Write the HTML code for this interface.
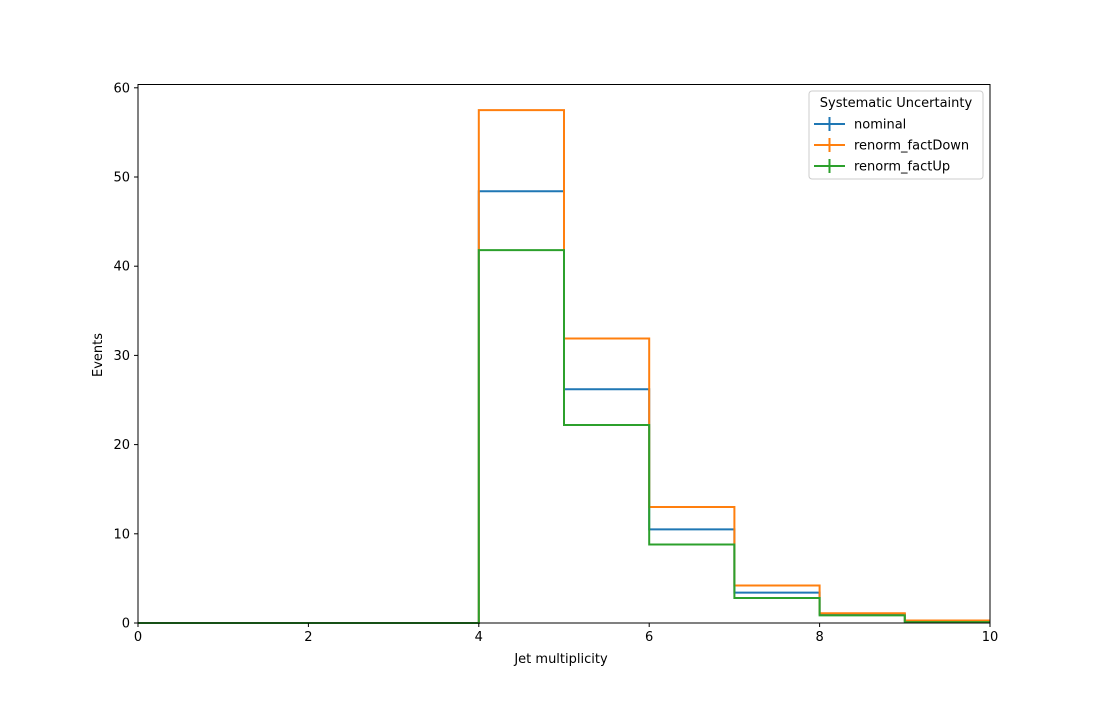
<!DOCTYPE html>
<html><head><meta charset="utf-8"><style>
body{margin:0;background:#fff;font-family:"Liberation Sans","DejaVu Sans",sans-serif;}
svg text{font-family:"DejaVu Sans","Liberation Sans",sans-serif;font-size:13px;fill:#000}
</style></head><body>
<svg id="chart" width="1100" height="700" xmlns="http://www.w3.org/2000/svg">
<rect x="0" y="0" width="1100" height="700" fill="#fff"/>
<g id="series"></g>
<rect x="138" y="84.5" width="852" height="538.5" fill="none" stroke="#000" stroke-width="1"/>
<g id="xticks"></g><g id="yticks"></g>
<text x="561" y="663" text-anchor="middle">Jet multiplicity</text>
<text transform="translate(102,355) rotate(-90)" text-anchor="middle">Events</text>
<g>
<rect x="809" y="91" width="174" height="88" rx="3" fill="#fff" fill-opacity="0.8" stroke="#ccc"/>
<text x="896" y="107" text-anchor="middle">Systematic Uncertainty</text>
<g id="legend-entries"></g>
</g>
</svg>
<script>
const binEdges=[0,1,2,3,4,5,6,7,8,9,10];
const seriesNames=["nominal","renorm_factDown","renorm_factUp"];
const nominal=[0,0,0,0,48.4,26.2,10.5,3.4,1.0,0.2];
const factDown=[0,0,0,0,57.5,31.9,13.0,4.2,1.1,0.28];
const factUp=[0,0,0,0,41.8,22.2,8.8,2.8,0.85,0.1];
const xTicks=[0,2,4,6,8,10];
const yTicks=[0,10,20,30,40,50,60];
const colors=["#1f77b4","#ff7f0e","#2ca02c"];
const NS="http://www.w3.org/2000/svg";
const X=v=>138+v*85.2;
const Y=v=>623-v*8.92;
const ser=document.getElementById('series');
[nominal,factDown,factUp].forEach((vals,i)=>{
  let d="";
  vals.forEach((v,k)=>{
    const x0=X(binEdges[k]),x1=X(binEdges[k+1]),y=Y(v);
    if(k===0) d+=`M${x0},${y}`; else d+=`L${x0},${y}`;
    d+=`L${x1},${y}`;
  });
  const p=document.createElementNS(NS,'path');
  p.setAttribute('d',d);p.setAttribute('fill','none');
  p.setAttribute('stroke',colors[i]);p.setAttribute('stroke-width','2');
  
  
  ser.appendChild(p);
});
const xt=document.getElementById('xticks');
xTicks.forEach(t=>{
  const g=document.createElementNS(NS,'g');
  
  
  g.innerHTML=`<line x1="${X(t)}" x2="${X(t)}" y1="623" y2="627" stroke="#000"/><text x="${X(t)}" y="641" text-anchor="middle">${t}</text>`;
  xt.appendChild(g);
});
const yt=document.getElementById('yticks');
yTicks.forEach(t=>{
  const g=document.createElementNS(NS,'g');
  
  
  g.innerHTML=`<line x1="134" x2="138" y1="${Y(t)}" y2="${Y(t)}" stroke="#000"/><text x="130" y="${Y(t)+4.5}" text-anchor="end">${t}</text>`;
  yt.appendChild(g);
});
const le=document.getElementById('legend-entries');
seriesNames.forEach((n,i)=>{
  const y=124+i*21;
  const g=document.createElementNS(NS,'g');
  
  
  g.innerHTML=`<line x1="814" x2="845" y1="${y}" y2="${y}" stroke="${colors[i]}" stroke-width="2"/><line x1="829.5" x2="829.5" y1="${y-7}" y2="${y+7}" stroke="${colors[i]}" stroke-width="2"/><text x="854" y="${y+4.5}">${n}</text>`;
  le.appendChild(g);
});
</script>
</body></html>
